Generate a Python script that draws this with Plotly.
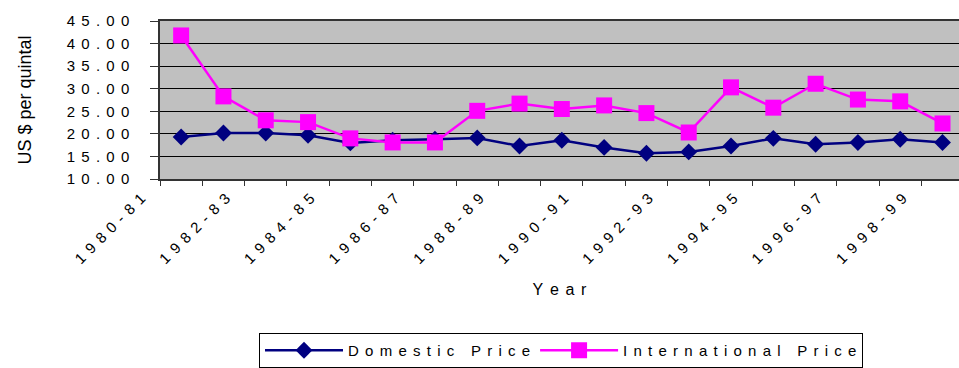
import plotly.graph_objects as go

# Crop years shown on the category axis
years = [
    "1980-81", "1981-82", "1982-83", "1983-84", "1984-85", "1985-86", "1986-87",
    "1987-88", "1988-89", "1989-90", "1990-91", "1991-92", "1992-93", "1993-94",
    "1994-95", "1995-96", "1996-97", "1997-98", "1998-99",
]

# Prices in US $ per quintal
domestic_price = [19.3, 20.2, 20.2, 19.7, 18.0, 18.6, 18.8, 19.1, 17.3, 18.6,
                  17.0, 15.7, 16.0, 17.3, 19.0, 17.7, 18.1, 18.8, 18.1]
international_price = [41.8, 28.3, 23.0, 22.6, 19.0, 18.1, 18.1, 25.1, 26.7, 25.5,
                        26.3, 24.6, 20.3, 30.3, 25.8, 31.1, 27.6, 27.2, 22.3]

y_tick_values = [10, 15, 20, 25, 30, 35, 40, 45]

FONT = "Liberation Sans, Arial, sans-serif"
# wide letter spacing: four-per-em + six-per-em space between characters
SP = "\u2005\u2006"


def spaced(text):
    return SP.join(text)


# label every other year, leave the rest blank
x_tick_text = [spaced(y) if i % 2 == 0 else "" for i, y in enumerate(years)]
y_tick_text = [spaced(f"{v:.2f}") for v in y_tick_values]

fig = go.Figure()
fig.add_trace(go.Scatter(
    x=years, y=domestic_price, name=spaced("Domestic Price"),
    mode="lines+markers",
    line=dict(color="#000080", width=2.5),
    marker=dict(symbol="diamond", size=13, color="#000080"),
))
fig.add_trace(go.Scatter(
    x=years, y=international_price, name=spaced("International Price"),
    mode="lines+markers",
    line=dict(color="#FF00FF", width=2.5),
    marker=dict(symbol="square", size=16, color="#FF00FF"),
))

fig.update_layout(
    width=959, height=368,
    margin=dict(l=160, r=0, t=21, b=189),
    paper_bgcolor="white",
    plot_bgcolor="#C0C0C0",
    font=dict(family=FONT, size=15, color="black"),
    showlegend=True,
    legend=dict(
        orientation="h",
        xref="container", yref="container",
        x=561 / 959, xanchor="center",
        y=1 - 333 / 368, yanchor="top",
        bgcolor="white", bordercolor="black", borderwidth=1,
        font=dict(family=FONT, size=15),
        itemwidth=78,
    ),
)

fig.update_xaxes(
    type="category",
    range=[-0.5, 18.39],
    tickmode="array", tickvals=years, ticktext=x_tick_text,
    tickson="boundaries",
    tickangle=-45,
    ticklabelshift=-40,
    ticklabelstandoff=3,
    ticks="outside", ticklen=5, tickcolor="#333333",
    showline=True, linecolor="#333333", linewidth=1.5, mirror=True,
    showgrid=False,
    title=dict(text=spaced("Year"), standoff=18, font=dict(size=16)),
)

fig.update_yaxes(
    range=[10, 45],
    tickmode="array", tickvals=y_tick_values, ticktext=y_tick_text,
    ticks="outside", ticklen=8, tickcolor="#333333",
    ticklabelstandoff=18,
    showline=True, linecolor="#333333", linewidth=1.5,
    showgrid=True, gridcolor="black", gridwidth=1,
    zeroline=False,
    title=dict(text="US $ per quintal", standoff=30, font=dict(size=18)),
)

fig.write_html("out.html")
